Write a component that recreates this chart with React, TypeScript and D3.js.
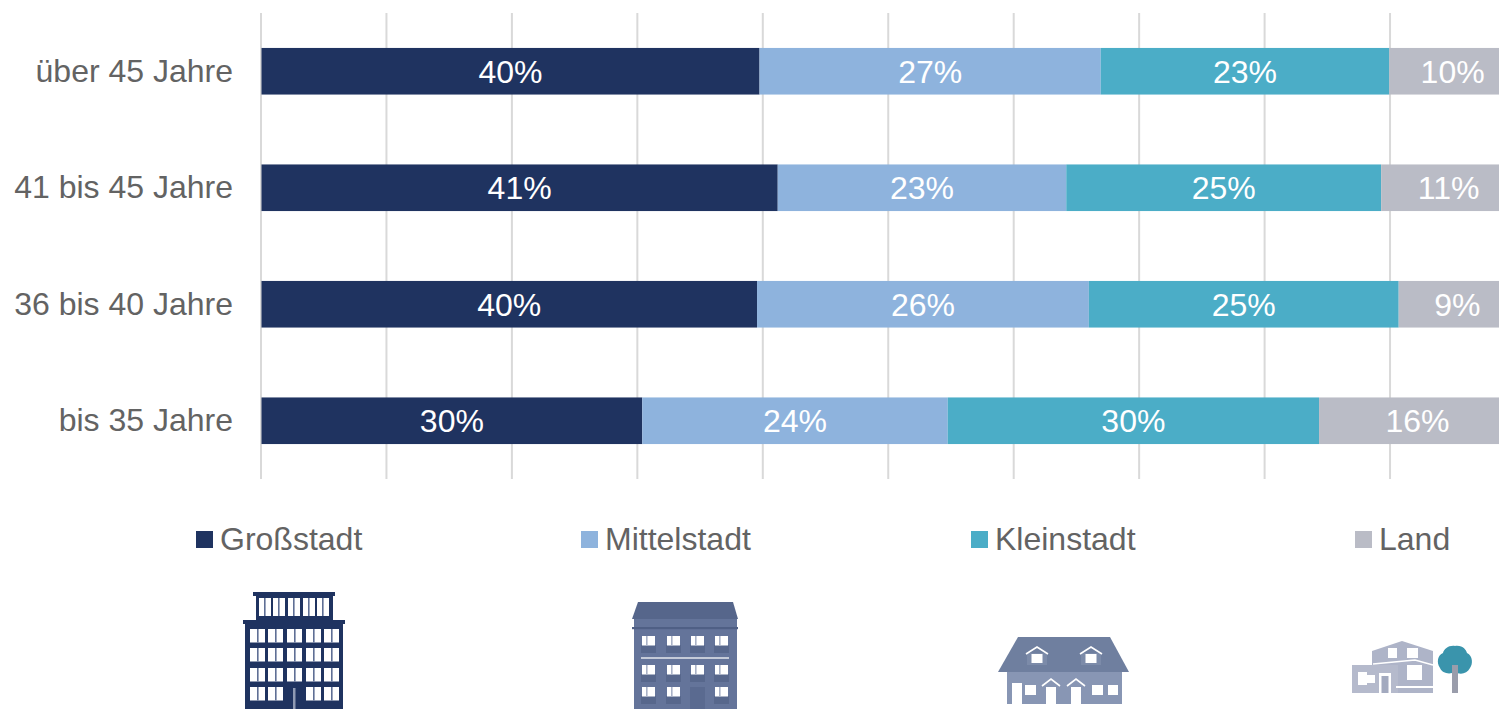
import * as d3 from 'd3';
import React, { useEffect, useRef } from 'react';

const ageGroups = ['über 45 Jahre', '41 bis 45 Jahre', '36 bis 40 Jahre', 'bis 35 Jahre'];
const seriesNames = ['Großstadt', 'Mittelstadt', 'Kleinstadt', 'Land'];
const grossstadt = [39.7, 41.15, 39.5, 30.35];
const mittelstadt = [27.2, 23.0, 26.45, 24.35];
const kleinstadt = [23.0, 25.1, 24.7, 29.6];
const land = [10.1, 10.75, 9.35, 15.7];
const gridTicks = [0, 10, 20, 30, 40, 50, 60, 70, 80, 90];
const colors = ['#1F3360', '#8EB3DD', '#4BADC7', '#BABCC6'];
const legendX = [196, 581, 971, 1355];

const WIDTH = 1499;
const HEIGHT = 709;
const FONT = '"Liberation Sans", Arial, sans-serif';
const TEXT_COLOR = '#636363';

// little helper for the window grids in the icons
const Windows = ({ xs, ys, w, h, fill = '#fff', skip = [] as string[] }) => (
    <g fill={fill}>
        {ys.map((y, r) => xs.map((x, c) => skip.includes(`${r}-${c}`) ? null : (
            <rect key={`${r}-${c}`} x={x} y={y} width={w} height={h} />
        )))}
    </g>
);

const Mullions = ({ xs, ys, h, fill }) => (
    <g fill={fill}>
        {ys.map((y, r) => xs.map((x, c) => <rect key={`${r}-${c}`} x={x} y={y} width={1.6} height={h} />))}
    </g>
);

const Highrise = () => {
    const topX = [259, 273, 288, 303, 317];
    const colX = [250, 268, 287, 306, 324];
    const rowY = [629, 648, 668, 687];
    const navy = '#1F3360';
    return (
        <g>
            <rect x={253} y={592} width={82} height={4} fill={navy} />
            <rect x={256} y={596} width={77} height={26} fill={navy} />
            <rect x={243} y={620} width={102} height={4} fill={navy} />
            <rect x={245} y={624} width={98} height={85} fill={navy} />
            <Windows xs={topX} ys={[598]} w={12} h={18} />
            <Mullions xs={topX.map(x => x + 5)} ys={[598]} h={18} fill="#5f6f95" />
            <Windows xs={colX} ys={rowY} w={15} h={13.5} />
            <Mullions xs={colX.map(x => x + 7)} ys={rowY} h={13.5} fill="#5f6f95" />
            <rect x={287} y={687} width={15} height={22} fill={navy} />
            <rect x={293} y={688} width={2.5} height={21} fill="#8f9ab3" />
        </g>
    );
};

const Townhouse = () => {
    const colX = [642, 667, 691, 715];
    const rowY = [636, 665, 687];
    return (
        <g>
            <rect x={634} y={618} width={103} height={91} fill="#64749A" />
            <polygon points="638,602 733,602 738,619 632,619" fill="#56668B" />
            <rect x={632} y={627} width={106} height={2.2} fill="#4F5F85" />
            <Windows xs={colX.map(x => x - 1)} ys={rowY.map(y => y + 9)} w={15} h={8} fill="#57678C" skip={['2-2']} />
            <Windows xs={colX} ys={rowY} w={13} h={9.5} skip={['2-2']} />
            <Mullions xs={colX.map(x => x + 4)} ys={rowY} h={9.5} fill="#a9b2c7" />
            <rect x={641} y={657} width={88} height={2} fill="#C4CAD8" />
            <rect x={690} y={687} width={15} height={22} fill="#5A6A90" />
        </g>
    );
};

const Gable = ({ x, y, w }) => (
    <polyline
        points={`${x - w},${y + 7} ${x},${y} ${x + w},${y + 7}`}
        fill="none" stroke="#fff" strokeWidth={1.6}
    />
);

const DoubleHouse = () => (
    <g>
        <rect x={1007} y={671} width={115} height={33} fill="#8896B4" />
        <polygon points="1018,637 1110,637 1129,672 998,672" fill="#6F7F9F" />
        {[1037, 1091].map(x => (
            <g key={x}>
                <rect x={x - 10} y={653} width={20} height={12} fill="#7C8BA9" />
                <rect x={x - 5.5} y={654} width={11} height={9} fill="#fff" />
                <Gable x={x} y={647} w={11} />
            </g>
        ))}
        <rect x={1012} y={683} width={10} height={21} fill="#fff" />
        <rect x={1025} y={685} width={11} height={10} fill="#fff" />
        <rect x={1092} y={685} width={11} height={10} fill="#fff" />
        <rect x={1108} y={685} width={10} height={10} fill="#fff" />
        {[1051, 1076].map(x => (
            <g key={x}>
                <rect x={x - 5} y={687} width={10} height={17} fill="#fff" />
                <Gable x={x} y={679} w={9} />
            </g>
        ))}
    </g>
);

const CountryHouse = () => (
    <g>
        <polygon points="1372,651 1402,641 1433,651 1433,693 1372,693" fill="#AEB4C8" />
        <polygon points="1352,665 1398,665 1398,693 1352,693" fill="#B5BACC" />
        <polyline points="1373,664 1415,660 1433,665" fill="none" stroke="#fff" strokeWidth={1.4} />
        <rect x={1388} y={648} width={9} height={10} fill="#fff" />
        <rect x={1407} y={648} width={11} height={10} fill="#fff" />
        <rect x={1407} y={665} width={15} height={15} fill="#fff" />
        <rect x={1358} y={672} width={9} height={13} fill="#fff" />
        <rect x={1367} y={675} width={8} height={8} fill="#fff" />
        <rect x={1379} y={673} width={12} height={20} fill="#fff" />
        <rect x={1381.5} y={676} width={7} height={17} fill="#A3AABF" />
        <rect x={1396} y={686} width={37} height={2} fill="#fff" />
        <path d="M1455 646 C1463 645 1466 650 1467 653 C1473 656 1473 664 1470 668 C1467 674 1460 675 1455 672 C1449 675 1442 673 1440 668 C1436 662 1438 655 1443 653 C1444 649 1449 645 1455 646 Z" fill="#3A94AC" />
        <rect x={1452} y={665} width={6} height={28} fill="#9A9DAB" />
    </g>
);

function StackedBars() {
    const ref = useRef<SVGGElement>(null);

    const x = d3.scaleLinear().domain([0, 100]).range([261.5, 1516]);
    const y = d3.scaleBand().domain(ageGroups).range([13, 479]).paddingInner(0.6).paddingOuter(0.3);

    useEffect(() => {
        const g = d3.select(ref.current);
        g.selectAll('*').remove();

        g.append('g')
            .selectAll('line')
            .data(gridTicks)
            .join('line')
            .attr('x1', d => x(d) - 0.5)
            .attr('x2', d => x(d) - 0.5)
            .attr('y1', 13)
            .attr('y2', 479)
            .attr('stroke', '#D9D9D9')
            .attr('stroke-width', 2);

        const rows = ageGroups.map((age, i) => ({
            age,
            Großstadt: grossstadt[i],
            Mittelstadt: mittelstadt[i],
            Kleinstadt: kleinstadt[i],
            Land: land[i],
        }));
        const stacked = d3.stack().keys(seriesNames)(rows as any);

        stacked.forEach((layer, k) => {
            const seg = g.append('g');
            seg.selectAll('rect')
                .data(layer)
                .join('rect')
                .attr('x', d => x(d[0]))
                .attr('y', d => y((d.data as any).age)!)
                .attr('width', d => x(d[1]) - x(d[0]))
                .attr('height', y.bandwidth())
                .attr('fill', colors[k]);
            seg.selectAll('text')
                .data(layer)
                .join('text')
                .attr('x', d => (x(d[0]) + x(d[1])) / 2)
                .attr('y', d => y((d.data as any).age)! + y.bandwidth() / 2 + 0.5)
                .attr('dy', '0.35em')
                .attr('text-anchor', 'middle')
                .attr('fill', '#fff')
                .attr('font-size', 32)
                .text(d => `${Math.round(d[1] - d[0] + 1e-6)}%`);
        });

        g.append('g')
            .selectAll('text')
            .data(ageGroups)
            .join('text')
            .attr('x', 233)
            .attr('y', d => y(d)! + y.bandwidth() / 2 - 0.5)
            .attr('dy', '0.35em')
            .attr('text-anchor', 'end')
            .attr('fill', TEXT_COLOR)
            .attr('font-size', 32)
            .text(d => d);

        const legend = g.append('g')
            .selectAll('g')
            .data(seriesNames)
            .join('g')
            .attr('transform', (d, i) => `translate(${legendX[i]}, 531)`);
        legend.append('rect')
            .attr('width', 17)
            .attr('height', 17)
            .attr('fill', (d, i) => colors[i]);
        legend.append('text')
            .attr('x', 24)
            .attr('y', 8)
            .attr('dy', '0.35em')
            .attr('fill', TEXT_COLOR)
            .attr('font-size', 32)
            .text(d => d);
    }, []);

    return <g ref={ref} fontFamily={FONT} />;
}

export default function App() {
    useEffect(() => {
        document.body.style.margin = '0';
    }, []);

    return (
        <svg width={WIDTH} height={HEIGHT} style={{ display: 'block', background: '#fff' }}>
            <StackedBars />
            <Highrise />
            <Townhouse />
            <DoubleHouse />
            <CountryHouse />
        </svg>
    );
}
